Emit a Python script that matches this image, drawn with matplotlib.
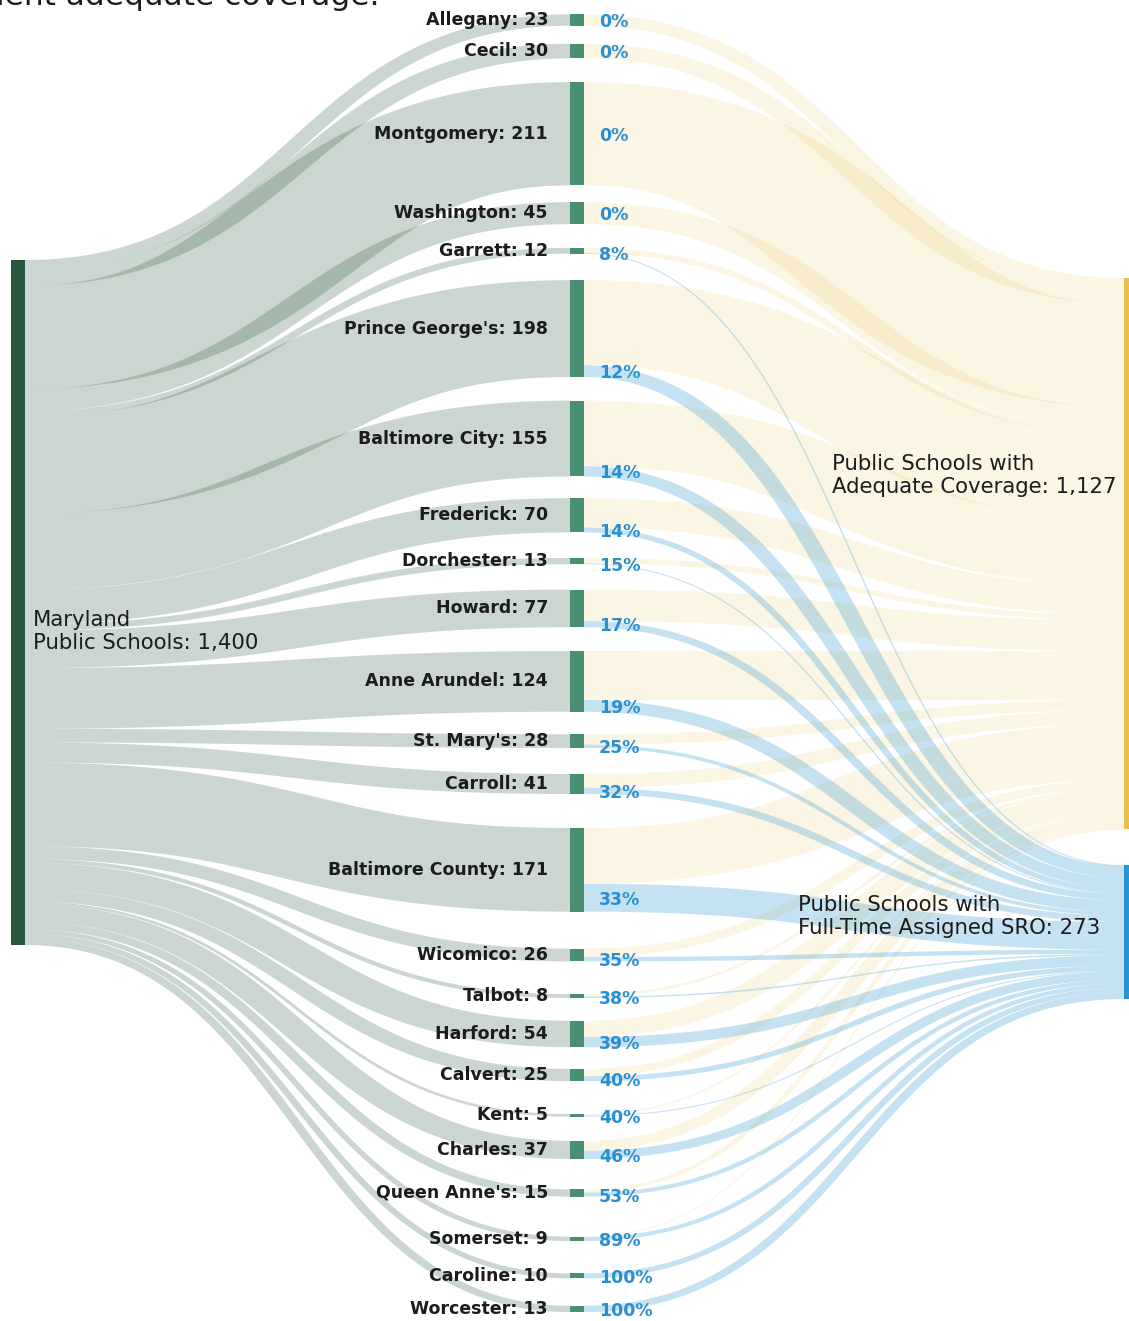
import numpy as np
import matplotlib.pyplot as plt
from matplotlib.patches import Rectangle

# data: schools per county and schools with a full-time assigned SRO
counties = ["Allegany", "Cecil", "Montgomery", "Washington", "Garrett",
            "Prince George's", "Baltimore City", "Frederick", "Dorchester",
            "Howard", "Anne Arundel", "St. Mary's", "Carroll", "Baltimore County",
            "Wicomico", "Talbot", "Harford", "Calvert", "Kent", "Charles",
            "Queen Anne's", "Somerset", "Caroline", "Worcester"]
schools = [23, 30, 211, 45, 12, 198, 155, 70, 13, 77, 124, 28, 41, 171,
           26, 8, 54, 25, 5, 37, 15, 9, 10, 13]
sro = [0, 0, 0, 0, 1, 24, 21, 10, 2, 13, 24, 7, 13, 57,
       9, 3, 21, 10, 2, 17, 8, 8, 10, 13]

total = sum(schools)
total_sro = sum(sro)
total_ok = total - total_sro

# layout (pixels)
W, H = 1129, 1321
k = 685 / total                       # px per school
left_x, mid_x, right_x, node_w = 11, 570, 1124, 14
left_top = 260
right_top = 278
right_gap = 36
mid_gaps = [14.4, 18.1, 23.7, 16.8, 23.6, 26.5, 23.6, 21.7, 25.5, 25.3, 23.8, 22.5,
            26, 34, 37, 32.7, 22.8, 21.7, 33, 24.3, 30.3, 40, 32.4, 27.4]
stretch = 1.5   # graphic looks stretched sideways: bands get fatter where steep

c_left = "#28553c"
c_mid = "#4a8f73"
c_ok = "#e8be50"
c_sro = "#2a96cf"
c_pct = "#2a8fd0"
c_text = "#1c1c1c"

fig = plt.figure(figsize=(W / 100, H / 100), dpi=100)
ax = fig.add_axes([0, 0, 1, 1])
ax.set_xlim(0, W)
ax.set_ylim(H, 0)
ax.axis("off")


def link(x0, y0, x1, y1, w, color, alpha):
    # band of width w around a horizontal bezier, built in squeezed x then stretched back
    t = np.linspace(0, 1, 150)[:, None]
    xm = (x0 + x1) / 2
    P = np.array([[x0, y0], [xm, y0], [xm, y1], [x1, y1]], float)
    P[:, 0] /= stretch
    B = (1 - t) ** 3 * P[0] + 3 * (1 - t) ** 2 * t * P[1] + 3 * (1 - t) * t ** 2 * P[2] + t ** 3 * P[3]
    D = 3 * (1 - t) ** 2 * (P[1] - P[0]) + 6 * (1 - t) * t * (P[2] - P[1]) + 3 * t ** 2 * (P[3] - P[2])
    D = D / np.linalg.norm(D, axis=1, keepdims=True)
    N = np.column_stack([-D[:, 1], D[:, 0]])
    hw = max(w, 1) / 2
    poly = np.vstack([B + N * hw, (B - N * hw)[::-1]])
    poly[:, 0] *= stretch
    ax.fill(poly[:, 0], poly[:, 1], color=color, alpha=alpha, lw=0)


# middle node positions
mid_tops = []
y = 0
for g, n in zip(mid_gaps, schools):
    y += g
    mid_tops.append(y)
    y += n * k

ok_top = right_top
sro_top = right_top + total_ok * k + right_gap

# left -> counties
ly = left_top
for n, t in zip(schools, mid_tops):
    h = n * k
    link(left_x + node_w, ly + h / 2, mid_x, t + h / 2, h, c_left, 0.24)
    ly += h

# counties -> adequate coverage (drawn first, blue goes on top)
oy = ok_top
for n, s, t in zip(schools, sro, mid_tops):
    hok = (n - s) * k
    if hok > 0:
        link(mid_x + node_w, t + hok / 2, right_x, oy + hok / 2, hok, c_ok, 0.15)
        oy += hok

# counties -> SRO
sy = sro_top
for n, s, t in zip(schools, sro, mid_tops):
    hok = (n - s) * k
    hs = s * k
    if hs > 0:
        link(mid_x + node_w, t + hok + hs / 2, right_x, sy + hs / 2, hs, c_sro, 0.27)
        sy += hs

# nodes
ax.add_patch(Rectangle((left_x, left_top), node_w, total * k, color=c_left, lw=0))
ax.add_patch(Rectangle((right_x, ok_top), node_w, total_ok * k, color=c_ok, lw=0))
ax.add_patch(Rectangle((right_x, sro_top), node_w, total_sro * k, color=c_sro, lw=0))

fs = 12.5
for name, n, s, t in zip(counties, schools, sro, mid_tops):
    h = n * k
    ax.add_patch(Rectangle((mid_x, t), node_w, h, color=c_mid, lw=0))
    ax.text(548, t + h / 2, f"{name}: {n}", ha="right", va="center",
            fontsize=fs, fontweight="bold", color=c_text)
    if s > 0:
        py = t + (n - s) * k + s * k / 2
    else:
        py = t + h / 2
    ax.text(599, py + 2, f"{round(100 * s / n)}%", ha="left", va="center",
            fontsize=fs, fontweight="bold", color=c_pct)

big = dict(ha="left", va="center", fontsize=15.3, color=c_text, linespacing=1.2)
ax.text(33, left_top + total * k / 2 + 29, f"Maryland\nPublic Schools: {total:,}", **big)
ax.text(832, ok_top + total_ok * k / 2 - 78,
        f"Public Schools with\nAdequate Coverage: {total_ok:,}", **big)
ax.text(798, sro_top + total_sro * k / 2 - 16,
        f"Public Schools with\nFull-Time Assigned SRO: {total_sro}", **big)

# caption cut off at the top of the image
ax.text(-4, 5, "ient adequate coverage.", ha="left", va="baseline",
        fontsize=22.5, color=c_text)

fig.savefig("out.png", dpi=100)
